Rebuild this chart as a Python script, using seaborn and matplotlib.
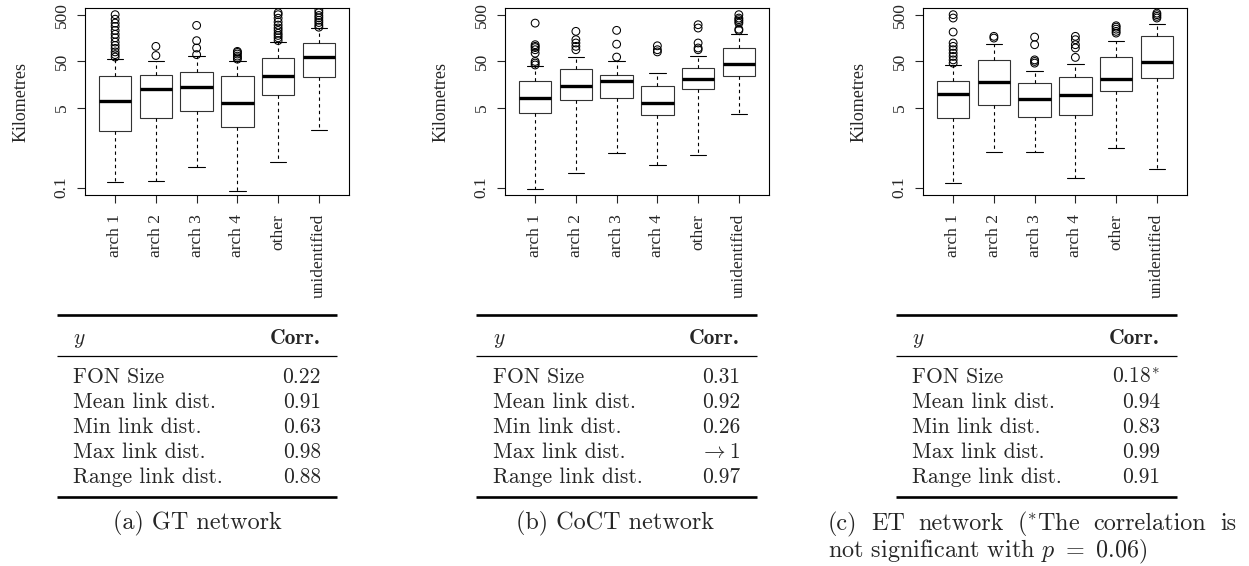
import numpy as np
import pandas as pd
import matplotlib
matplotlib.use("Agg")
import matplotlib.pyplot as plt
import seaborn as sns

# ---------------- data ----------------
categories = ["arch 1", "arch 2", "arch 3", "arch 4", "other", "unidentified"]

# GT network: five-number summaries (km)
gt_low = [0.13, 0.14, 0.27, 0.086, 0.35, 1.7]
gt_q1 = [1.6, 3.15, 4.4, 2.0, 9.5, 23]
gt_med = [7.2, 12.8, 14.3, 6.5, 25, 61]
gt_q3 = [24, 25.5, 29, 24, 58, 122]
gt_high = [57, 50, 64, 52, 130, 255]
gt_out = [[500, 400, 330, 280, 230, 190, 160, 130, 110, 95, 80, 70, 62],
          [105, 67],
          [295, 139, 97, 70],
          [82, 78, 72, 65, 60, 56],
          [140, 160, 180, 200, 230, 260, 300, 350, 420, 500, 550],
          [270, 300, 340, 380, 430, 480, 550, 620]]

# CoCT network
co_low = [0.092, 0.21, 0.56, 0.31, 0.51, 3.7]
co_q1 = [3.9, 7.5, 8.2, 3.6, 12.6, 25]
co_med = [8.3, 14.6, 19.3, 6.3, 20.9, 44]
co_q3 = [19.3, 35, 26, 15.1, 36, 97]
co_high = [39, 62, 50, 28.6, 64, 196]
co_out = [[330, 114, 105, 99, 89, 75, 50, 46, 42],
          [220, 146, 124, 105, 89],
          [231, 117, 62],
          [108, 89, 80],
          [305, 259, 124, 97, 89],
          [500, 423, 391, 361, 330, 245, 230]]

# ET network
et_low = [0.124, 0.57, 0.57, 0.163, 0.72, 0.255]
et_q1 = [3.15, 5.8, 3.2, 3.6, 11.4, 22]
et_med = [10.1, 18.3, 8.0, 9.7, 20.9, 47.6]
et_q3 = [19.3, 52.5, 17.5, 23.4, 62, 172]
et_high = [41, 117, 31.5, 44, 139, 316]
et_out = [[500, 424, 213, 124, 105, 89, 75, 64, 54, 46],
          [172, 158],
          [166, 114, 54, 50, 46],
          [172, 146, 114, 97, 61],
          [290, 270, 245, 220, 202],
          [540, 500, 460, 424]]

y_ticks = [0.1, 5, 50, 500]
y_tick_labels = ["0.1", "5", "50", "500"]

table_labels = ["FON Size", "Mean link dist.", "Min link dist.",
                "Max link dist.", "Range link dist."]
corr_gt = ["0.22", "0.91", "0.63", "0.98", "0.88"]
corr_co = ["0.31", "0.92", "0.26", r"$\rightarrow$1", "0.97"]
corr_et = [r"0.18$^{*}$", "0.94", "0.83", "0.99", "0.91"]

caption_a = "(a) GT network"
caption_b = "(b) CoCT network"
caption_c1 = ["(c)", "ET", "network", r"($^{*}$The", "correlation", "is"]
caption_c2 = r"not significant with $p\ =\ 0.06$)"

# ---------------- style ----------------
sns.set_style("ticks")
plt.rcParams["font.family"] = ["Liberation Serif", "DejaVu Serif"]
plt.rcParams["mathtext.fontset"] = "cm"

W, H = 1249, 566
fig = plt.figure(figsize=(W / 100, H / 100), dpi=100)


def summary_frame(low, q1, med, q3, high):
    rows = []
    for i, c in enumerate(categories):
        for v in (low[i], q1[i], med[i], q3[i], high[i]):
            rows.append({"cat": c, "km": v})
    return pd.DataFrame(rows)


def outlier_frame(out):
    rows = []
    for i, c in enumerate(categories):
        for v in out[i]:
            rows.append({"cat": c, "km": v})
    return pd.DataFrame(rows)


panels = [
    (85, (gt_low, gt_q1, gt_med, gt_q3, gt_high), gt_out),
    (505, (co_low, co_q1, co_med, co_q3, co_high), co_out),
    (923, (et_low, et_q1, et_med, et_q3, et_high), et_out),
]

ax_w, ax_top, ax_bot = 264, 8, 195
for left, stats, out in panels:
    ax = fig.add_axes([left / W, 1 - ax_bot / H, ax_w / W, (ax_bot - ax_top) / H])
    df = summary_frame(*stats)
    sns.boxplot(data=df, x="cat", y="km", order=categories, whis=(0, 100),
                width=0.8, color="white", linecolor="black", linewidth=0.8,
                log_scale=True, ax=ax,
                medianprops={"linewidth": 2.4, "color": "black"},
                whiskerprops={"linestyle": (0, (3, 3)), "color": "black"},
                capprops={"color": "black"},
                boxprops={"edgecolor": "#333333"})
    odf = outlier_frame(out)
    sns.stripplot(data=odf, x="cat", y="km", order=categories, jitter=False,
                  marker="o", size=5.6, color="black", facecolor="none",
                  edgecolor="black", linewidth=0.75, log_scale=True, ax=ax)
    ax.set_yscale("log")
    ax.set_ylim(0.0695, 695)
    ax.set_xlim(-0.74, 5.74)
    ax.set_yticks(y_ticks)
    ax.set_yticklabels(y_tick_labels)
    ax.yaxis.set_minor_locator(matplotlib.ticker.NullLocator())
    ax.tick_params(axis="y", labelrotation=90, length=6, width=0.8, pad=5,
                   labelsize=12.5)
    for lab in ax.get_yticklabels():
        lab.set_va("center")
    ax.tick_params(axis="x", labelrotation=90, length=6, width=0.8, pad=7.5,
                   labelsize=12.5)
    ax.set_xlabel("")
    ax.set_ylabel("Kilometres", fontsize=13)
    ax.yaxis.set_label_coords(-0.212, 0.5)
    for s in ax.spines.values():
        s.set_visible(True)
        s.set_linewidth(0.8)
        s.set_color("black")

# ---------------- tables ----------------
ov = fig.add_axes([0, 0, 1, 1])
ov.set_xlim(0, W)
ov.set_ylim(H, 0)
ov.axis("off")
ov.patch.set_visible(False)

tables = [
    (57, 337, 73, 321, corr_gt),
    (476, 757, 493, 740, corr_co),
    (896, 1177, 912, 1160, corr_et),
]
tfs = 15.5
cfs = 17.4
for x0, x1, tl, tr, corr in tables:
    ov.hlines([315, 497], x0, x1, color="black", linewidth=1.9)
    ov.hlines([356], x0, x1, color="black", linewidth=0.9)
    ov.text(tl, 344, r"$y$", fontsize=tfs, ha="left", va="baseline")
    ov.text(tr, 344, "Corr.", fontsize=tfs, ha="right", va="baseline",
            family="cmb10")
    for i, (lab, val) in enumerate(zip(table_labels, corr)):
        yb = 383 + 25 * i
        ov.text(tl, yb, lab, fontsize=tfs, ha="left", va="baseline", family="cmr10")
        ov.text(tr, yb, val, fontsize=tfs, ha="right", va="baseline", family="cmr10")

ov.text(197, 529, caption_a, fontsize=cfs, ha="center", va="baseline", family="cmr10")
ov.text(615, 529, caption_b, fontsize=cfs, ha="center", va="baseline", family="cmr10")
ov.text(828, 557, caption_c2, fontsize=cfs, ha="left", va="baseline", family="cmr10")

# justified first line of caption (c)
line_left, line_right = 828, 1236
words = [ov.text(line_left, 530, w, fontsize=cfs, ha="left", va="baseline",
                 family="cmr10") for w in caption_c1]
fig.canvas.draw()
renderer = fig.canvas.get_renderer()
widths = [t.get_window_extent(renderer).width for t in words]
gap = (line_right - line_left - sum(widths)) / (len(words) - 1)
x = line_left
for t, w in zip(words, widths):
    t.set_x(x)
    x += w + gap

fig.savefig("out.png", dpi=100, facecolor="white")
